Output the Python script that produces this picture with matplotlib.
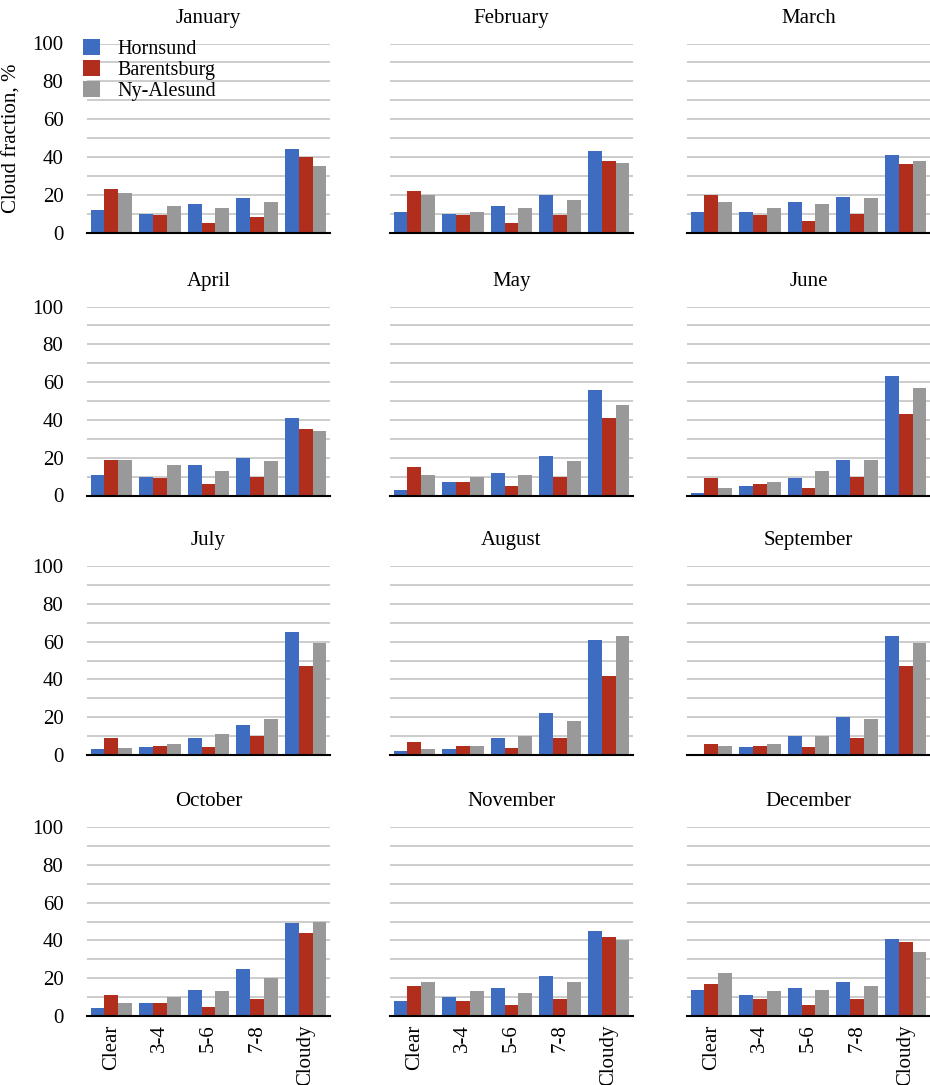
import numpy as np
import matplotlib
matplotlib.use("Agg")
import matplotlib.pyplot as plt

plt.rcParams['font.family'] = ['Liberation Serif', 'DejaVu Serif']

# categories and stations
categories = ["Clear", "3-4", "5-6", "7-8", "Cloudy"]
stations = ["Hornsund", "Barentsburg", "Ny-Alesund"]
months = ["January", "February", "March", "April", "May", "June",
          "July", "August", "September", "October", "November", "December"]

# cloud fraction (%) per month, order of categories
hornsund = [
    [12, 10, 15, 18, 44],
    [11, 10, 14, 20, 43],
    [11, 11, 16, 19, 41],
    [11, 10, 16, 20, 41],
    [3, 7, 12, 21, 56],
    [1.5, 5, 9, 19, 63],
    [3, 4, 9, 16, 65],
    [2, 3, 9, 22, 61],
    [0.5, 4, 10, 20, 63],
    [4, 7, 14, 25, 49],
    [8, 10, 15, 21, 45],
    [14, 11, 15, 18, 41],
]
barentsburg = [
    [23, 9, 5, 8, 40],
    [22, 9, 5, 9, 38],
    [20, 9, 6, 10, 36],
    [19, 9, 6, 10, 35],
    [15, 7, 5, 10, 41],
    [9, 6, 4, 10, 43],
    [9, 5, 4, 10, 47],
    [7, 5, 3.5, 9, 42],
    [6, 5, 4, 9, 47],
    [11, 7, 5, 9, 44],
    [16, 8, 6, 9, 42],
    [17, 9, 6, 9, 39],
]
ny_alesund = [
    [21, 14, 13, 16, 35],
    [20, 11, 13, 17, 37],
    [16, 13, 15, 18, 38],
    [19, 16, 13, 18, 34],
    [11, 10, 11, 18, 48],
    [4, 7, 13, 19, 57],
    [3.5, 6, 11, 19, 59],
    [3, 5, 10, 18, 63],
    [5, 6, 10, 19, 59],
    [7, 10, 13, 20, 50],
    [18, 13, 12, 18, 40],
    [23, 13, 14, 16, 34],
]

colors = ["#3D6CC0", "#B12D1C", "#999999"]
fs = 15

W, H = 930, 1085
fig = plt.figure(figsize=(W / 100, H / 100), dpi=100)

col_left = [87, 390, 687]
col_width = 243
row_top = [43.5, 306.5, 566, 827]
row_height = 189

x = np.arange(len(categories))
bw = 0.283

for i, month in enumerate(months):
    r, c = divmod(i, 3)
    ax = fig.add_axes([col_left[c] / W, 1 - (row_top[r] + row_height) / H,
                       col_width / W, row_height / H])
    series = [hornsund[i], barentsburg[i], ny_alesund[i]]
    for k, vals in enumerate(series):
        ax.bar(x + (k - 1) * bw, vals, width=bw, color=colors[k],
               label=stations[k], zorder=3)
    ax.set_xlim(-0.5, 4.5)
    ax.set_ylim(0, 100)
    ax.set_yticks(np.arange(0, 101, 10))
    ax.yaxis.grid(True, color="#C4C4C4", linewidth=1.2, zorder=0)
    ax.set_axisbelow(True)
    for s in ["top", "right", "left"]:
        ax.spines[s].set_visible(False)
    ax.spines["bottom"].set_color("black")
    ax.spines["bottom"].set_linewidth(1.5)
    ax.spines["bottom"].set_zorder(4)
    ax.tick_params(length=0)
    ax.set_title(month, fontsize=fs, pad=15)

    if c == 0:
        ax.set_yticklabels([str(v) if v % 20 == 0 else "" for v in range(0, 101, 10)],
                           fontsize=fs)
        ax.tick_params(axis="y", pad=17)
    else:
        ax.set_yticklabels([])

    ax.set_xticks(x)
    if r == 3:
        ax.set_xticklabels(categories, rotation=90, fontsize=fs)
        ax.tick_params(axis="x", pad=6)
    else:
        ax.set_xticklabels([])

    if i == 0:
        ax.set_ylabel("Cloud fraction, %", fontsize=fs)
        ax.yaxis.set_label_coords(-0.27, 0.5)
        ax.legend(loc="upper left", bbox_to_anchor=(-0.075, 1.1), frameon=False,
                  fontsize=14.5, handlelength=0.85, handleheight=0.85,
                  handletextpad=0.85, labelspacing=0.05, borderpad=0.2)

fig.savefig("out.png", dpi=100)
